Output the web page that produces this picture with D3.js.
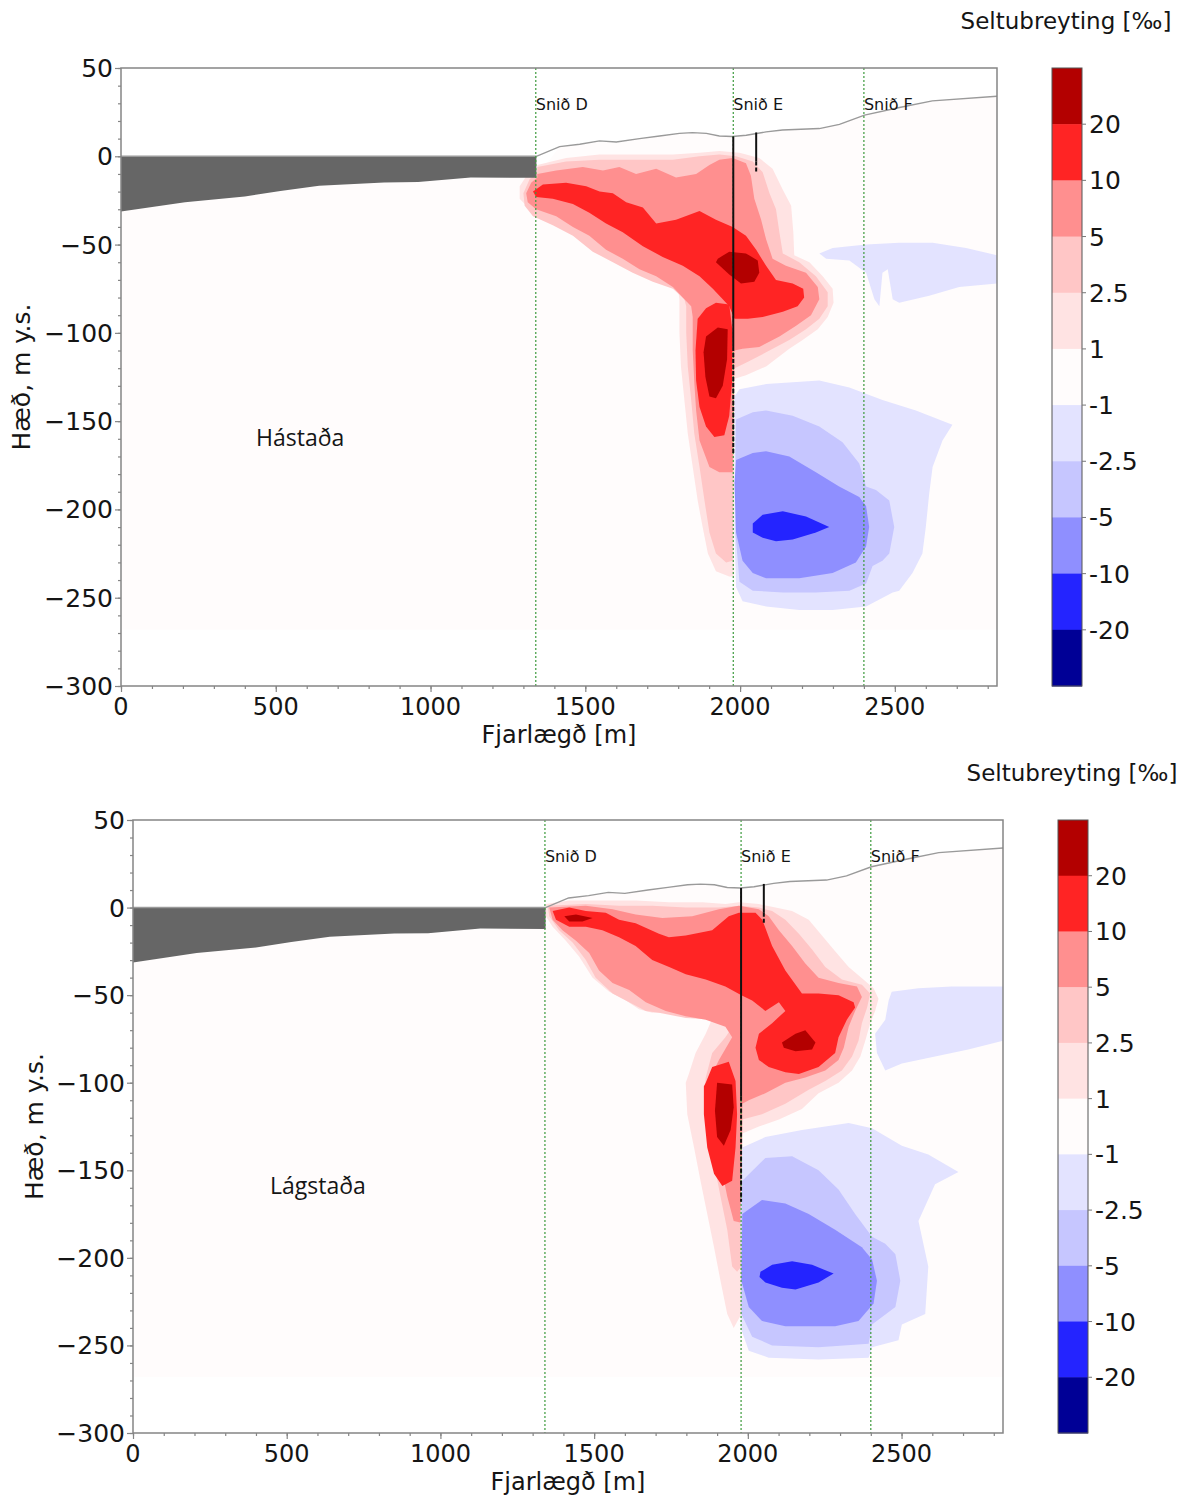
<!DOCTYPE html>
<html><head><meta charset="utf-8">
<script src="https://cdn.jsdelivr.net/npm/d3@7"></script>
<style>
body{margin:0;background:#fff}
svg{display:block}
text{font-family:"DejaVu Sans",sans-serif;fill:#151515}
</style>
</head><body>
<svg id="c" width="1196" height="1495"></svg>
<script>
// ---------- data ----------
const xTicks = [0, 500, 1000, 1500, 2000, 2500];
const yTicks = [50, 0, -50, -100, -150, -200, -250, -300];
const xDomain = [0, 2830];
const yDomain = [-300, 50];
const cbLabels = ["20", "10", "5", "2.5", "1", "-1", "-2.5", "-5", "-10", "-20"];
const bandColors = ["#b30000", "#ff2424", "#ff8f8f", "#ffc6c6", "#ffe3e3", "#fffcfc",
                    "#e3e3ff", "#c6c6ff", "#8f8fff", "#2424ff", "#000096"];
const sectionNames = ["Snið D", "Snið E", "Snið F"];
const sectionX = [1340, 1978, 2400];
const dataBottom = -268;

// river/sea bed under the grey water wedge
const bedLine = [[0,-31.3],[207,-26],[400,-22.8],[515,-19.6],[640,-16.7],[850,-14.8],[960,-14.6],[1130,-12],[1342,-12.2]];
// land surface
const surfaceLine = [[0,0],[1342,0],[1417,5.5],[1482,6.8],[1546,8.7],[1600,8.1],[1675,10],[1740,11.5],[1804,13],[1846,13.4],
  [1891,13],[1933,11.5],[1975,11.2],[2020,11.9],[2084,13.8],[2137,14.9],[2256,15.7],[2321,18.1],[2402,23.3],[2515,27.6],[2621,31.4],[2830,34]];
// wells: [x, top, end of solid part, end of dashed part]
const wellLong = [1978, 11.2, -108, -168];
const wellShort = [2052, 13.5, -3, -9];

// ---- Hástaða contours (distance m, elevation m) ----
const hGe1 = [[1345,-5],[1438,-1],[1546,1],[1675,1],[1783,1],[1869,2],[1933,3],[1998,2],[2062,-1],[2105,-7],[2138,-19],[2165,-28],[2172,-43],[2175,-56],[2224,-60],[2267,-68],[2299,-75],[2302,-83],[2283,-91],[2251,-98],[2202,-104],[2159,-109],[2084,-119],[2019,-124],[1982,-126],[1979,-238],[1965,-238],[1922,-235],[1896,-225],[1879,-210],[1863,-195],[1847,-176],[1831,-157],[1820,-138],[1809,-119],[1804,-100],[1804,-81],[1799,-74],[1761,-70],[1696,-66],[1632,-61],[1567,-57],[1503,-50],[1438,-41],[1374,-35],[1320,-30],[1288,-24],[1288,-17],[1314,-10],[1345,-7]];
const hGe2_5 = [[1345,-6],[1438,-3],[1546,-2],[1675,-2],[1783,-2],[1869,0],[1933,1],[1987,0],[2041,-3],[2073,-9],[2095,-21],[2116,-30],[2127,-43],[2138,-55],[2191,-60],[2245,-68],[2283,-77],[2283,-85],[2256,-92],[2213,-98],[2159,-104],[2084,-111],[2019,-117],[1982,-120],[1976,-229],[1955,-230],[1922,-225],[1901,-213],[1885,-195],[1869,-176],[1852,-157],[1842,-138],[1831,-119],[1826,-100],[1826,-85],[1820,-81],[1783,-75],[1718,-71],[1653,-66],[1589,-60],[1524,-54],[1460,-45],[1395,-39],[1331,-34],[1304,-28],[1300,-21],[1320,-13],[1345,-9]];
const hGe5 = [[1345,-10],[1406,-8],[1492,-6],[1557,-8],[1610,-6],[1664,-10],[1729,-7],[1793,-12],[1858,-10],[1901,-5],[1933,-2],[1976,-1],[2019,-4],[2035,-11],[2046,-24],[2068,-36],[2084,-47],[2105,-58],[2148,-62],[2213,-66],[2251,-74],[2256,-81],[2229,-90],[2181,-96],[2127,-102],[2062,-108],[2008,-109],[1982,-110],[1976,-179],[1933,-179],[1901,-176],[1869,-161],[1858,-144],[1852,-128],[1847,-110],[1847,-91],[1842,-85],[1820,-81],[1783,-74],[1729,-68],[1675,-64],[1621,-58],[1567,-53],[1513,-45],[1460,-40],[1406,-34],[1341,-30],[1314,-26],[1309,-21],[1325,-15],[1345,-12]];
const hGe10a = [[1331,-20],[1363,-16],[1438,-15],[1503,-17],[1546,-20],[1589,-21],[1632,-26],[1686,-29],[1729,-38],[1793,-36],[1869,-31],[1922,-36],[1976,-40],[2019,-45],[2052,-53],[2084,-62],[2116,-70],[2170,-72],[2204,-75],[2207,-80],[2186,-85],[2138,-88],[2073,-91],[2025,-92],[1982,-92],[1965,-85],[1944,-81],[1912,-75],[1869,-68],[1815,-62],[1750,-57],[1686,-51],[1621,-43],[1567,-38],[1513,-32],[1460,-27],[1395,-24],[1341,-23]];
const hGe10b = [[1922,-83],[1965,-84],[1976,-100],[1974,-128],[1965,-147],[1949,-158],[1917,-159],[1890,-153],[1869,-142],[1858,-127],[1856,-110],[1863,-92],[1890,-86]];
const hGe20a = [[1928,-58],[1965,-54],[2019,-55],[2057,-59],[2062,-66],[2046,-71],[2003,-72],[1965,-67],[1922,-60]];
const hGe20b = [[1890,-102],[1928,-97],[1960,-98],[1958,-115],[1944,-130],[1922,-137],[1901,-136],[1888,-125],[1882,-111]];
const hLe1a = [[2256,-55],[2299,-52],[2407,-50],[2514,-49],[2622,-49],[2730,-52],[2830,-56],[2830,-72],[2708,-74],[2611,-79],[2514,-83],[2493,-81],[2477,-64],[2460,-66],[2450,-85],[2434,-81],[2407,-66],[2353,-59],[2278,-58]];
const hLe1b = [[1982,-136],[1998,-132],[2084,-129],[2256,-127],[2353,-131],[2460,-138],[2568,-144],[2686,-152],[2654,-161],[2622,-176],[2611,-191],[2600,-210],[2589,-225],[2557,-236],[2514,-246],[2493,-247],[2407,-255],[2299,-257],[2191,-257],[2084,-255],[2008,-252],[1987,-244],[1982,-213],[1982,-166]];
const hLe2_5 = [[1987,-149],[2041,-145],[2084,-144],[2170,-147],[2256,-153],[2331,-162],[2385,-174],[2407,-187],[2439,-189],[2482,-195],[2498,-210],[2482,-225],[2460,-229],[2428,-232],[2407,-242],[2353,-246],[2245,-247],[2138,-247],[2041,-246],[1998,-241],[1985,-213],[1985,-166]];
const hLe5 = [[1987,-172],[2041,-168],[2084,-167],[2159,-170],[2245,-179],[2320,-187],[2385,-193],[2407,-198],[2417,-210],[2407,-221],[2374,-230],[2299,-236],[2191,-239],[2084,-239],[2041,-236],[2008,-229],[1987,-213],[1982,-185]];
const hLe10 = [[2041,-208],[2073,-203],[2138,-201],[2213,-204],[2288,-210],[2245,-213],[2170,-217],[2116,-218],[2073,-216],[2041,-213]];

// ---- Lágstaða contours ----
const lGe1 = [[1343,2],[1419,4],[1527,4],[1635,4],[1744,3],[1852,3],[1927,2],[1971,3],[2036,2],[2090,0],[2144,-2],[2198,-7],[2241,-16],[2284,-25],[2328,-34],[2376,-41],[2409,-46],[2425,-52],[2414,-59],[2398,-66],[2382,-76],[2366,-85],[2339,-93],[2295,-100],[2230,-106],[2176,-115],[2101,-121],[2036,-125],[1982,-129],[1979,-232],[1954,-240],[1933,-232],[1911,-213],[1890,-194],[1868,-175],[1846,-156],[1825,-137],[1803,-118],[1798,-100],[1808,-95],[1830,-83],[1863,-72],[1885,-63],[1798,-60],[1689,-60],[1646,-58],[1603,-53],[1549,-48],[1495,-40],[1451,-28],[1408,-19],[1365,-11],[1343,-5]];
const lGe2_5 = [[1349,1],[1473,2],[1581,1],[1689,1],[1798,0],[1906,0],[1971,1],[2036,0],[2079,-2],[2122,-7],[2166,-15],[2209,-24],[2252,-34],[2306,-41],[2371,-44],[2398,-49],[2388,-57],[2371,-66],[2360,-76],[2339,-85],[2306,-93],[2252,-99],[2198,-104],[2122,-112],[2046,-118],[1982,-121],[1979,-205],[1965,-208],[1949,-205],[1933,-184],[1911,-165],[1890,-146],[1868,-127],[1857,-108],[1863,-97],[1884,-83],[1927,-74],[1950,-68],[1906,-64],[1798,-63],[1711,-60],[1668,-59],[1614,-54],[1560,-49],[1505,-40],[1473,-30],[1430,-20],[1386,-13],[1354,-5]];
const lGe5 = [[1354,0],[1473,1],[1560,-1],[1635,-4],[1722,-6],[1819,-5],[1906,-1],[1971,1],[2036,-1],[2068,-5],[2101,-13],[2144,-22],[2187,-32],[2230,-40],[2295,-43],[2355,-45],[2371,-51],[2349,-59],[2328,-68],[2312,-80],[2295,-87],[2252,-93],[2187,-97],[2122,-100],[2057,-106],[2003,-110],[1982,-112],[1979,-180],[1954,-179],[1933,-165],[1911,-146],[1895,-127],[1879,-108],[1884,-95],[1906,-87],[1949,-74],[1927,-68],[1863,-64],[1798,-62],[1733,-59],[1668,-54],[1614,-47],[1560,-43],[1516,-36],[1484,-26],[1441,-19],[1397,-13],[1365,-7]];
const lGe10a = [[1365,-2],[1419,0],[1473,-2],[1538,-3],[1581,-7],[1635,-9],[1711,-15],[1743,-17],[1798,-16],[1884,-13],[1938,-5],[1971,-3],[2025,-3],[2047,-7],[2079,-22],[2122,-36],[2176,-49],[2230,-49],[2295,-50],[2344,-54],[2349,-57],[2322,-64],[2295,-74],[2284,-83],[2230,-91],[2166,-95],[2122,-94],[2068,-91],[2036,-87],[2025,-80],[2036,-72],[2079,-66],[2122,-59],[2101,-54],[2057,-59],[2014,-53],[1979,-50],[1927,-45],[1863,-41],[1798,-38],[1744,-34],[1689,-30],[1635,-22],[1581,-17],[1527,-13],[1473,-11],[1419,-11],[1376,-7]];
const lGe10b = [[1884,-91],[1938,-88],[1960,-99],[1965,-118],[1960,-137],[1949,-156],[1917,-159],[1890,-152],[1868,-137],[1857,-118],[1857,-102],[1863,-100]];
const lGe20a = [[1403,-5],[1441,-4],[1495,-6],[1462,-8],[1419,-8]];
const lGe20b = [[2111,-77],[2155,-72],[2187,-70],[2220,-77],[2209,-81],[2155,-82],[2117,-80]];
const lGe20c = [[1900,-100],[1949,-101],[1954,-114],[1944,-127],[1922,-136],[1900,-131],[1893,-116]];
const lLe1a = [[2468,-48],[2555,-46],[2663,-45],[2830,-45],[2830,-76],[2717,-81],[2609,-85],[2501,-89],[2447,-93],[2420,-83],[2414,-72],[2447,-64],[2458,-53]];
const lLe1b = [[1982,-137],[2057,-131],[2176,-127],[2328,-123],[2404,-126],[2501,-136],[2587,-141],[2685,-151],[2609,-158],[2555,-179],[2587,-205],[2577,-232],[2501,-238],[2490,-247],[2404,-251],[2393,-257],[2230,-258],[2068,-257],[2003,-253],[1979,-241],[1976,-175]];
const lLe2_5 = [[1982,-156],[2057,-143],[2144,-142],[2230,-150],[2295,-161],[2349,-175],[2404,-188],[2447,-192],[2480,-198],[2496,-213],[2480,-228],[2404,-238],[2393,-249],[2230,-251],[2079,-250],[2014,-245],[1979,-232],[1979,-175]];
const lLe5 = [[1982,-175],[2046,-167],[2122,-169],[2198,-175],[2284,-184],[2371,-194],[2404,-201],[2420,-213],[2409,-226],[2360,-236],[2284,-239],[2122,-239],[2046,-236],[2003,-228],[1979,-213]];
const lLe10 = [[2041,-208],[2079,-204],[2144,-202],[2209,-204],[2279,-209],[2230,-214],[2155,-218],[2111,-217],[2057,-214],[2038,-211]];

// band index per contour layer: 0 = >20 ... 10 = <-20
const hastadaLayers = [[hGe1,4],[hGe2_5,3],[hGe5,2],[hGe10a,1],[hGe10b,1],[hGe20a,0],[hGe20b,0],
  [hLe1a,6],[hLe1b,6],[hLe2_5,7],[hLe5,8],[hLe10,9]];
const lagstadaLayers = [[lGe1,4],[lGe2_5,3],[lGe5,2],[lGe10a,1],[lGe10b,1],[lGe20a,0],[lGe20b,0],[lGe20c,0],
  [lLe1a,6],[lLe1b,6],[lLe2_5,7],[lLe5,8],[lLe10,9]];

const panels = [
  {id:"a", name:"Hástaða", layers:hastadaLayers, left:121, right:997, top:68, bottom:686,
   cbx:1052, nameX:256, nameY:446, yLabX:30, titleX:1066, titleY:29},
  {id:"b", name:"Lágstaða", layers:lagstadaLayers, left:133, right:1003, top:820, bottom:1433,
   cbx:1058, nameX:270, nameY:1194, yLabX:43, titleX:1072, titleY:781}
];

// ---------- drawing ----------
const svg = d3.select("#c");

function drawPanel(p) {
  const x = d3.scaleLinear(xDomain, [p.left, p.right]);
  const y = d3.scaleLinear(yDomain, [p.bottom, p.top]);
  const line = d3.line().x(d => x(d[0])).y(d => y(d[1]));
  const poly = d => line(d) + "Z";

  svg.append("clipPath").attr("id", "clip" + p.id)
    .append("rect").attr("x", p.left).attr("y", p.top)
    .attr("width", p.right - p.left).attr("height", p.bottom - p.top);
  const g = svg.append("g").attr("clip-path", `url(#clip${p.id})`);

  // neutral data domain
  const domainPoly = bedLine.concat(surfaceLine.filter(d => d[0] > 1342))
    .concat([[xDomain[1], dataBottom], [0, dataBottom]]);
  g.append("path").attr("d", poly(domainPoly)).attr("fill", bandColors[5]);

  // filled contour levels
  g.selectAll("path.lev").data(p.layers).join("path").attr("class", "lev")
    .attr("d", d => poly(d[0])).attr("fill", d => bandColors[d[1]]);

  // water wedge
  const wedge = [[0, 0], [1342, 0]].concat(bedLine.slice().reverse());
  g.append("path").attr("d", poly(wedge)).attr("fill", "#666666");

  // surface line
  g.append("path").attr("d", line(surfaceLine)).attr("fill", "none")
    .attr("stroke", "#9a9a9a").attr("stroke-width", 1.4);

  // section lines
  sectionX.forEach((sx, i) => {
    g.append("line").attr("x1", x(sx)).attr("x2", x(sx)).attr("y1", p.top).attr("y2", p.bottom)
      .attr("stroke", "#3c9a3c").attr("stroke-width", 1.2).attr("stroke-dasharray", "2,2");
    svg.append("text").attr("x", x(sx)).attr("y", y(26)).attr("font-size", 16)
      .text(sectionNames[i]);
  });

  // wells
  [wellLong, wellShort].forEach(w => {
    g.append("line").attr("x1", x(w[0])).attr("x2", x(w[0])).attr("y1", y(w[1])).attr("y2", y(w[2]))
      .attr("stroke", "#111").attr("stroke-width", 2);
    g.append("line").attr("x1", x(w[0])).attr("x2", x(w[0])).attr("y1", y(w[2])).attr("y2", y(w[3]))
      .attr("stroke", "#111").attr("stroke-width", 2).attr("stroke-dasharray", "4,2");
  });

  // frame
  svg.append("rect").attr("x", p.left).attr("y", p.top).attr("width", p.right - p.left)
    .attr("height", p.bottom - p.top).attr("fill", "none").attr("stroke", "#858585").attr("stroke-width", 1.5);

  // axes (ticks)
  const ax = (gen, tx, ty) => {
    const a = svg.append("g").attr("transform", `translate(${tx},${ty})`).call(gen);
    a.select(".domain").remove();
    a.selectAll("line").attr("stroke", "#858585").attr("stroke-width", 1.2);
    a.selectAll("text").remove();
    return a;
  };
  ax(d3.axisBottom(x).tickValues(d3.range(0, xDomain[1] + 1, 100)).tickSize(3), 0, p.bottom);
  ax(d3.axisBottom(x).tickValues(xTicks).tickSize(6), 0, p.bottom);
  ax(d3.axisLeft(y).tickValues(d3.range(-300, 51, 10)).tickSize(3), p.left, 0);
  ax(d3.axisLeft(y).tickValues(yTicks).tickSize(6), p.left, 0);

  // tick labels
  xTicks.forEach(v => svg.append("text").attr("x", x(v)).attr("y", p.bottom + 29)
    .attr("text-anchor", "middle").attr("font-size", 24).text(v));
  yTicks.forEach(v => svg.append("text").attr("x", p.left - 8).attr("y", y(v)).attr("dy", "0.36em")
    .attr("text-anchor", "end").attr("font-size", 25).text(v < 0 ? "\u2212" + Math.abs(v) : v));

  // axis titles
  svg.append("text").attr("x", (p.left + p.right) / 2).attr("y", p.bottom + 57)
    .attr("text-anchor", "middle").attr("font-size", 24).text("Fjarlægð [m]");
  svg.append("text").attr("transform", `translate(${p.yLabX},${(p.top + p.bottom) / 2}) rotate(-90)`)
    .attr("text-anchor", "middle").attr("font-size", 25).text("Hæð, m y.s.");

  // scenario label
  svg.append("text").attr("x", p.nameX).attr("y", p.nameY).attr("font-size", 23)
    .style("font-family", "'Open Sans', sans-serif").text(p.name);

  // colorbar
  const cb = d3.scaleLinear([0, bandColors.length], [p.top, p.bottom]);
  const cw = 30;
  svg.selectAll(null).data(bandColors).join("rect")
    .attr("x", p.cbx).attr("y", (d, i) => cb(i)).attr("width", cw)
    .attr("height", (d, i) => cb(i + 1) - cb(i) + 0.5).attr("fill", d => d);
  svg.append("rect").attr("x", p.cbx).attr("y", p.top).attr("width", cw).attr("height", p.bottom - p.top)
    .attr("fill", "none").attr("stroke", "#555").attr("stroke-width", 1);
  cbLabels.forEach((t, i) => {
    svg.append("line").attr("x1", p.cbx + cw).attr("x2", p.cbx + cw + 4)
      .attr("y1", cb(i + 1)).attr("y2", cb(i + 1)).attr("stroke", "#777");
    svg.append("text").attr("x", p.cbx + cw + 7).attr("y", cb(i + 1)).attr("dy", "0.36em")
      .attr("font-size", 25).text(t);
  });
  svg.append("text").attr("x", p.titleX).attr("y", p.titleY).attr("text-anchor", "middle")
    .attr("font-size", 23).text("Seltubreyting [‰]");
}

panels.forEach(drawPanel);
</script>
</body></html>
